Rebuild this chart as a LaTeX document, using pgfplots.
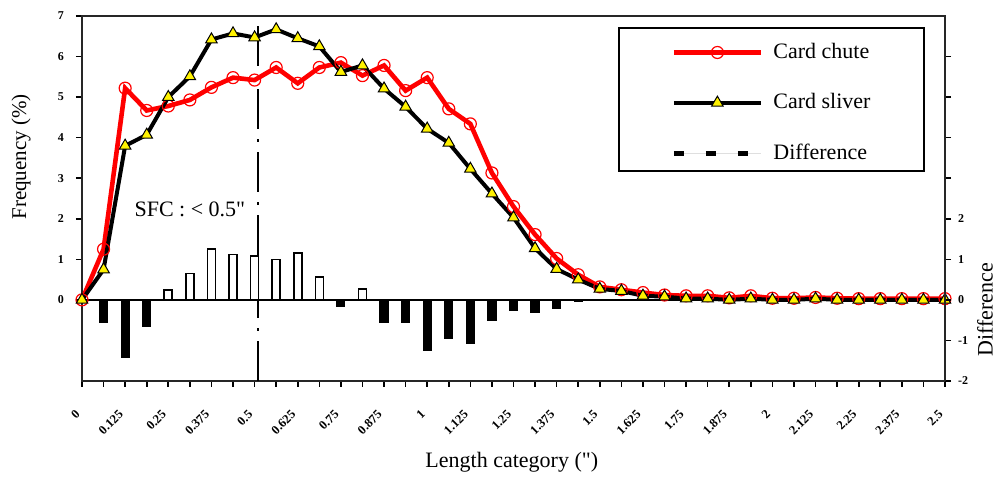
\documentclass[border=0pt]{standalone}
\usepackage{fontspec}
\setmainfont{Liberation Serif}
\usepackage{pgfplots}
\pgfplotsset{compat=1.18}
\usepackage{pgfplotstable}

\pgfplotstableread{
x chute sliver
0 0 0
0.0625 1.25 0.75
0.125 5.22 3.80
0.1875 4.67 4.07
0.25 4.78 5.00
0.3125 4.93 5.51
0.375 5.24 6.42
0.4375 5.48 6.57
0.5 5.42 6.47
0.5625 5.73 6.67
0.625 5.34 6.45
0.6875 5.73 6.25
0.75 5.85 5.62
0.8125 5.53 5.78
0.875 5.78 5.21
0.9375 5.16 4.76
1.0 5.48 4.22
1.0625 4.71 3.87
1.125 4.34 3.23
1.1875 3.13 2.62
1.25 2.30 2.03
1.3125 1.61 1.27
1.375 1.02 0.76
1.4375 0.62 0.50
1.5 0.32 0.27
1.5625 0.25 0.22
1.625 0.18 0.10
1.6875 0.12 0.08
1.75 0.10 0.03
1.8125 0.10 0.03
1.875 0.05 0.00
1.9375 0.10 0.03
2.0 0.04 0.00
2.0625 0.04 0.00
2.125 0.06 0.03
2.1875 0.04 0.00
2.25 0.03 0.00
2.3125 0.03 0.00
2.375 0.03 0.00
2.4375 0.03 0.00
2.5 0.03 0.00
}\freqtable

\pgfplotstableread{
x diff
0.0625 -0.55
0.125 -1.42
0.1875 -0.65
0.75 -0.15
0.875 -0.55
0.9375 -0.55
1.0 -1.25
1.0625 -0.95
1.125 -1.08
1.1875 -0.50
1.25 -0.25
1.3125 -0.30
1.375 -0.20
1.4375 -0.03
}\negdiff

\pgfplotstableread{
x diff
0.25 0.25
0.3125 0.65
0.375 1.25
0.4375 1.12
0.5 1.08
0.5625 1.00
0.625 1.15
0.6875 0.57
0.8125 0.27
}\posdiff

\begin{document}
\begin{tikzpicture}
\begin{axis}[
  name=main,
  scale only axis, width=431.5pt, height=182.5pt,
  xmin=0, xmax=2.5, ymin=-2, ymax=7,
  axis line style={line width=0.9pt, black!85},
  tick style={line width=0.8pt, black},
  tick align=outside,
  major tick length=3pt, minor tick length=3pt,
  xtick={0,0.125,0.25,0.375,0.5,0.625,0.75,0.875,1,1.125,1.25,1.375,1.5,1.625,1.75,1.875,2,2.125,2.25,2.375,2.5},
  xticklabels={0,0.125,0.25,0.375,0.5,0.625,0.75,0.875,1,1.125,1.25,1.375,1.5,1.625,1.75,1.875,2,2.125,2.25,2.375,2.5},
  minor x tick num=1,
  xtick pos=left, ytick pos=left,
  ytick={0,1,2,3,4,5,6,7},
  yticklabels={0,1,2,3,4,5,6,7},
  yticklabel style={font=\fontsize{6}{7}\selectfont\bfseries, xshift=-2.5pt},
  xticklabel style={font=\fontsize{6.3}{7}\selectfont\bfseries, rotate=45, anchor=east, xshift=-7pt, yshift=-7.5pt},
  every axis y label/.style={at={(axis description cs:0,0.614)}, xshift=-30.5pt, rotate=90, anchor=center, font=\fontsize{10.5}{12}\selectfont},
  every axis x label/.style={at={(axis description cs:0.498,0)}, yshift=-40.5pt, anchor=center, font=\fontsize{11}{12}\selectfont},
  ylabel={Frequency (\%)},
  xlabel={Length category (\textquotedbl)},
  legend style={at={(0.6825,0.762)}, anchor=west, draw=none, fill=none,
    inner sep=0pt, row sep=12pt, column sep=3pt,
    font=\fontsize{11}{12}\selectfont},
  legend cell align=left,
  legend image code/.code={\draw[mark repeat=2,mark phase=2,#1] plot coordinates {(0pt,0pt) (21.75pt,0pt) (43.5pt,0pt)};},
]
\addplot[forget plot, black, line width=0.8pt] coordinates {(0,0) (2.5,0)};
\addplot[forget plot, black, line width=1.3pt, dash pattern=on 20pt off 5pt on 1.5pt off 5pt] coordinates {(0.51,-2) (0.51,6.8)};

\addplot[red, line width=2.3pt, mark=o, mark size=3pt, mark options={line width=0.6pt, solid, fill=none}] table[x=x, y=chute] {\freqtable};
\addlegendentry{Card chute}
\addplot[black, line width=2pt, mark=triangle*, mark size=3.3pt, mark options={line width=0.5pt, fill=yellow, draw=black, solid}] table[x=x, y=sliver] {\freqtable};
\addlegendentry{Card sliver}

\addplot[ybar, bar width=4pt, bar shift=0pt, fill=black, draw=black, line width=0.6pt,
  legend image code/.code={\draw[black, line width=2.5pt, dash pattern=on 5pt off 11pt] (0pt,0pt) -- (43.5pt,0pt);}]
  table[x=x, y=diff] {\negdiff};
\addlegendentry{Difference}
\addplot[forget plot, ybar, bar width=4pt, bar shift=0pt, fill=white, draw=black, line width=0.8pt]
  table[x=x, y=diff] {\posdiff};

\node[font=\fontsize{11}{12}\selectfont] at (axis cs:0.3125,2.22) {SFC : < 0.5\textquotedbl};
\draw[line width=0.8pt] (axis description cs:0.6222,0.967) rectangle (axis description cs:0.9757,0.575);
\end{axis}

\begin{axis}[
  scale only axis, width=431.5pt, height=182.5pt,
  xmin=0, xmax=2.5, ymin=-2, ymax=7,
  axis x line=none, axis y line*=right,
  axis line style={line width=0.9pt, black!85},
  tick style={line width=0.8pt, black},
  tick align=outside, major tick length=3pt,
  ytick={-2,-1,0,1,2,3,4,5,6},
  yticklabels={-2,-1,0,1,2,{},{},{},{}},
  yticklabel style={font=\fontsize{6}{7}\selectfont\bfseries},
  every axis y label/.style={at={(axis description cs:1,0.195)}, xshift=20pt, rotate=90, anchor=center, font=\fontsize{11}{12}\selectfont},
  ylabel={Difference},
]
\end{axis}
\pgfresetboundingbox
\useasboundingbox ([shift={(-41pt,-48.5pt)}]main.south west) rectangle ([shift={(26pt,8pt)}]main.north east);
\end{tikzpicture}
\end{document}
